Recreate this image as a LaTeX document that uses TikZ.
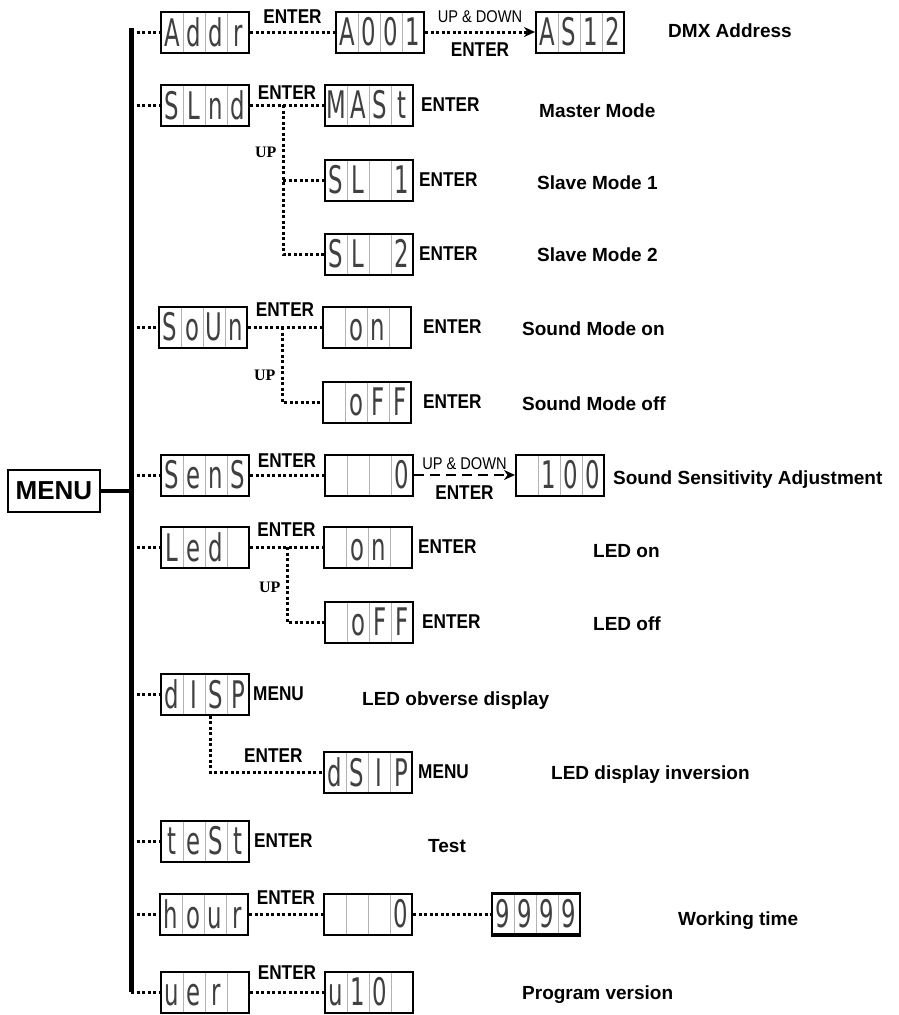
\documentclass[tikz,border=0pt]{standalone}
\usepackage{fontspec}
\setmainfont{Liberation Sans}
\newfontfamily\narrowfont[FakeStretch=0.86]{Liberation Sans}
\newfontfamily\serifbold{Liberation Serif}
\newfontfamily\lcdfont[FakeStretch=0.6]{DejaVu Sans}
\usetikzlibrary{positioning, calc, arrows.meta}

% four display cells of one LCD readout
\newcommand{\cells}[4]{\vphantom{0}\makebox[22pt]{#1}\makebox[22pt]{#2}\makebox[22pt]{#3}\makebox[22pt]{#4}}

\begin{document}
\begin{tikzpicture}[
    x=1pt, y=-1pt,
    lcd/.style={rectangle, draw, line width=2pt, inner sep=0pt, minimum width=88pt, minimum height=41pt,
        text=black!75, font=\lcdfont\fontsize{38}{38}\selectfont,
        path picture={
            \foreach \k in {1,2,3}
                \draw[black!30, line width=0.8pt]
                    ($(path picture bounding box.north west)!{\k/4}!(path picture bounding box.north east)$) --
                    ($(path picture bounding box.south west)!{\k/4}!(path picture bounding box.south east)$);
        }},
    menubox/.style={rectangle, draw, line width=2pt, minimum width=92pt, minimum height=42pt, inner sep=2pt,
        font=\bfseries\fontsize{26}{28}\selectfont},
    desc/.style={anchor=base west, inner sep=0pt, font=\bfseries\fontsize{19}{22}\selectfont},
    key/.style={inner sep=0pt, font=\narrowfont\bfseries\fontsize{20}{22}\selectfont},
    updown/.style={inner sep=0pt, font=\narrowfont\fontsize{17}{19}\selectfont},
    upkey/.style={inner sep=0pt, font=\serifbold\bfseries\fontsize{16}{18}\selectfont},
    dotline/.style={line width=3pt, dash pattern=on 3pt off 2.5pt},
    dashline/.style={line width=2.5pt, dash pattern=on 10pt off 6pt},
    tip/.style={-{Stealth[length=11pt, width=10pt]}}
]
    \useasboundingbox (0,0) rectangle (899,1015);

    % menu and main bar
    \node[menubox] (menu) at (54,491) {MENU};
    \coordinate (bartop) at (131,28);
    \coordinate (barbot) at (131,992);
    \draw[line width=5pt] (bartop) -- (barbot);
    \draw[line width=4pt] (menu) -- (menu -| bartop);

    % DMX address
    \node[lcd] (addr) at (205,32) {\cells{A}{d}{d}{r}};
    \node[lcd] (a001) at (380,32) {\cells{A}{0}{0}{1}};
    \node[lcd] (as12) at (580,32) {\cells{A}{S}{1}{2}};
    \node[desc] at (668,37) {DMX Address};
    \draw[dotline] (addr.west -| bartop) -- (addr);
    \draw[dotline] (addr) -- node[key, above=7pt] {ENTER} (a001);
    \draw[dotline, tip] (a001) -- node[updown, above=8pt] {UP \& DOWN} node[key, below=9pt] {ENTER} (as12);

    % master / slave
    \node[lcd] (slnd) at (205,105) {\cells{S}{L}{n}{d}};
    \node[lcd] (mast) at (369,105) {\cells{M}{A}{S}{t}};
    \node[key, right=7pt of mast] {ENTER};
    \node[desc] at (539,117) {Master Mode};
    \node[lcd] (sl1) at (369,180) {\cells{S}{L}{}{1}};
    \node[key, right=5pt of sl1] {ENTER};
    \node[desc] at (537,189) {Slave Mode 1};
    \node[lcd] (sl2) at (369,254) {\cells{S}{L}{}{2}};
    \node[key, right=5pt of sl2] {ENTER};
    \node[desc] at (537,261) {Slave Mode 2};
    \coordinate (slj) at (283,105);
    \draw[dotline] (slnd.west -| bartop) -- (slnd);
    \draw[dotline] (slnd) -- node[key, above=4pt] {ENTER} (mast);
    \draw[dotline] (slj) |- node[upkey, pos=0.16, left=5pt] {UP} (sl2);
    \draw[dotline] (sl1 -| slj) -- (sl1);

    % sound mode
    \node[lcd] (soun) at (203,327) {\cells{S}{o}{U}{n}};
    \node[lcd] (son) at (367,327) {\cells{}{o}{n}{}};
    \node[key, right=11pt of son] {ENTER};
    \node[desc] at (522,335) {Sound Mode on};
    \node[lcd] (soff) at (367,402) {\cells{}{o}{F}{F}};
    \node[key, right=11pt of soff] {ENTER};
    \node[desc] at (522,410) {Sound Mode off};
    \coordinate (sj) at (282,327);
    \draw[dotline] (soun.west -| bartop) -- (soun);
    \draw[dotline] (soun) -- node[key, above=9pt] {ENTER} (son);
    \draw[dotline] (sj) |- node[upkey, pos=0.32, left=5pt] {UP} (soff);

    % sound sensitivity
    \node[lcd] (sens) at (205,475) {\cells{S}{e}{n}{S}};
    \node[lcd] (szero) at (369,475) {\cells{}{}{}{0}};
    \node[lcd] (s100) at (560,475) {\cells{}{1}{0}{0}};
    \node[desc] at (613,484) {Sound Sensitivity Adjustment};
    \draw[dotline] (sens.west -| bartop) -- (sens);
    \draw[dotline] (sens) -- node[key, above=6pt] {ENTER} (szero);
    \draw[dashline, tip] (szero) -- node[updown, above=4pt] {UP \& DOWN} node[key, below=9pt] {ENTER} (s100);

    % led
    \node[lcd] (led) at (205,547) {\cells{L}{e}{d}{}};
    \node[lcd] (lon) at (368,547) {\cells{}{o}{n}{}};
    \node[key, right=5pt of lon] {ENTER};
    \node[desc] at (593,557) {LED on};
    \node[lcd] (loff) at (369,622) {\cells{}{o}{F}{F}};
    \node[key, right=8pt of loff] {ENTER};
    \node[desc] at (593,630) {LED off};
    \coordinate (lj) at (287,547);
    \draw[dotline] (led.west -| bartop) -- (led);
    \draw[dotline] (led) -- node[key, above=9pt] {ENTER} (lon);
    \draw[dotline] (lj) |- node[upkey, pos=0.27, left=5pt] {UP} (loff);

    % display direction
    \node[lcd] (disp) at (205,694) {\cells{d}{I}{S}{P}};
    \node[key, right=3pt of disp] {MENU};
    \node[desc] at (362,705) {LED obverse display};
    \node[lcd] (dsip) at (368,772) {\cells{d}{S}{I}{P}};
    \node[key, right=5pt of dsip] {MENU};
    \node[desc] at (551,779) {LED display inversion};
    \draw[dotline] (disp.west -| bartop) -- (disp);
    \draw[dotline] ([xshift=5pt]disp.south) |- node[key, pos=0.78, above=8pt] {ENTER} (dsip);

    % test
    \node[lcd] (test) at (205,841) {\cells{t}{e}{S}{t}};
    \node[key, right=4pt of test] {ENTER};
    \node[desc] at (428,852) {Test};
    \draw[dotline] (test.west -| bartop) -- (test);

    % working time
    \node[lcd] (hour) at (204,914) {\cells{h}{o}{u}{r}};
    \node[lcd] (hzero) at (368,914) {\cells{}{}{}{0}};
    \node[lcd, line width=2.6pt] (h9999) at (536,914) {\cells{9}{9}{9}{9}};
    \draw[line width=3pt] (h9999.south west) -- (h9999.south east);
    \node[desc] at (678,925) {Working time};
    \draw[dotline] (hour.west -| bartop) -- (hour);
    \draw[dotline] (hour) -- node[key, above=8pt] {ENTER} (hzero);
    \draw[dotline] (hzero) -- (h9999);

    % program version
    \node[lcd] (ver) at (205,992) {\cells{u}{e}{r}{}};
    \node[lcd] (u10) at (369,992) {\cells{u}{1}{0}{}};
    \node[desc] at (522,999) {Program version};
    \draw[dotline] (barbot) -- (ver);
    \draw[dotline] (ver) -- node[key, above=11pt] {ENTER} (u10);
\end{tikzpicture}
\end{document}
